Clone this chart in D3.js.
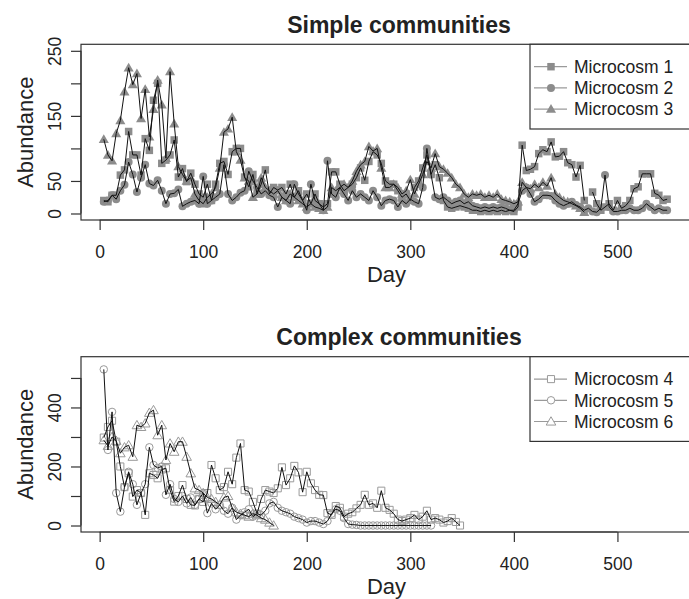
<!DOCTYPE html>
<html><head><meta charset="utf-8">
<script src="https://cdn.jsdelivr.net/npm/d3@7"></script>
<style>
body{margin:0;background:#fff;}
svg{display:block;font-family:"Liberation Sans",Arial,Helvetica,sans-serif;}
</style></head>
<body>
<svg id="chart" width="689" height="599"></svg>
<script>
// ---------- DATA ----------
const daysTop = [4,8,12,16,20,24,28,32,36,40,44,48,52,56,60,64,68,72,76,80,
84,88,92,96,100,104,108,112,116,120,124,128,132,136,140,144,148,152,156,160,
164,168,172,176,180,184,188,192,196,200,204,208,212,216,220,224,228,232,236,240,
244,248,252,256,260,264,268,272,276,280,284,288,292,296,300,304,308,312,316,320,
324,328,332,336,340,344,348,352,356,360,364,368,372,376,380,384,388,392,396,400,
404,408,412,416,420,424,428,432,436,440,444,448,452,456,460,464,468,472,476,480,
484,488,492,496,500,504,508,512,516,520,524,528,532,536,540,544,548];

const micro1 = [20,18,28,28,59,67,126,90,90,59,115,97,174,200,77,82,90,113,56,69,
49,62,45,30,25,45,20,45,77,80,60,95,100,100,56,41,60,30,45,67,
30,40,36,40,30,45,25,35,20,30,15,30,15,10,15,64,64,45,35,40,
45,55,70,51,80,95,90,77,50,45,45,35,25,30,20,40,50,70,90,60,
75,55,20,10,8,10,12,10,8,5,5,3,5,3,5,3,5,3,5,3,
10,105,66,68,72,92,98,95,110,87,88,95,78,75,56,74,20,null,33,15,
5,10,15,5,20,8,12,20,38,41,61,61,61,31,28,20,22];

const micro2 = [18,20,28,22,35,44,79,60,33,55,75,46,43,51,35,15,30,31,37,11,
15,18,20,15,57,15,20,25,30,75,30,20,25,32,35,65,50,40,30,35,
28,25,10,25,20,15,45,30,20,5,45,20,15,5,81,30,25,40,30,20,
35,25,30,25,20,35,25,12,20,22,20,10,20,15,22,18,15,40,100,60,
25,22,25,20,15,18,20,15,18,12,10,8,10,8,10,8,10,8,5,5,
15,35,40,30,18,22,28,28,27,20,15,12,15,18,13,10,5,8,3,2,
8,59,10,3,3,5,5,8,5,5,8,15,10,5,8,5,5];

const micro3 = [114,90,81,123,143,187,224,198,215,146,191,118,160,205,167,85,218,138,72,60,
50,55,30,20,15,25,30,40,70,125,130,148,95,82,55,50,25,30,55,40,
35,30,35,25,20,30,25,20,15,10,15,10,8,5,10,40,35,40,45,40,
50,65,75,80,103,96,100,70,40,40,45,40,30,35,52,30,45,60,80,70,
92,72,68,62,55,45,40,30,25,30,28,30,25,28,25,30,22,20,18,15,
18,48,40,38,45,40,48,42,55,30,25,20,18,15,12,8,2,null,null,null,
null,null,null,null,null,null,null,null,null,null,null,null,null,null,null,null,null];

const daysBottom = [4,8,12,16,20,24,28,32,36,40,44,48,52,56,60,64,68,72,76,80,
84,88,92,96,100,104,108,112,116,120,124,128,132,136,140,144,148,152,156,160,
164,168,172,176,180,184,188,192,196,200,204,208,212,216,220,224,228,232,236,240,
244,248,252,256,260,264,268,272,276,280,284,288,292,296,300,304,308,312,316,320,
324,328,332,336,340,344,348];

const micro4 = [298,334,355,284,200,130,177,98,120,110,36,177,171,160,190,194,120,81,100,137,
90,70,68,90,80,110,205,160,120,130,182,140,230,278,120,115,80,40,90,120,
115,110,126,197,137,160,202,180,113,182,143,120,104,103,42,36,66,60,30,40,
45,58,70,104,70,75,60,118,60,53,40,20,15,20,25,36,20,30,50,20,
25,20,10,15,25,12,0];

const micro5 = [529,256,385,110,47,130,182,140,70,110,140,265,205,195,200,104,140,90,80,100,
75,95,70,90,110,42,75,55,70,50,40,60,20,35,45,55,30,40,35,50,
75,80,60,50,45,40,30,25,20,10,15,15,10,5,15,40,55,50,25,5,
3,2,0,0,0,0,0,0,0,0,0,0,0,0,0,0,0,0,0,0,
null,null,null,null,null,null,null];

const micro6 = [289,270,300,287,245,265,272,233,340,334,346,382,391,306,340,222,278,250,284,284,
233,177,126,120,110,95,90,80,70,95,100,60,45,40,35,30,40,35,25,20,
10,0,null,null,null,null,null,null,null,null,null,null,null,null,null,null,null,null,null,null,
null,null,null,null,null,null,null,null,null,null,null,null,null,null,null,null,null,null,null,null,
null,null,null,null,null,null,null];

const xTicks = [0,100,200,300,400,500];
const xTickLabels = ["0","100","200","300","400","500"];
const yTicksTop = [0,50,100,150,200,250];
const yTickLabelsTop = ["0","50","","150","","250"];
const yTicksBottom = [0,100,200,300,400,500];
const yTickLabelsBottom = ["0","","200","","400",""];

const titles = ["Simple communities","Complex communities"];
const namesTop = ["Microcosm 1","Microcosm 2","Microcosm 3"];
const namesBottom = ["Microcosm 4","Microcosm 5","Microcosm 6"];

// ---------- DRAW ----------
const svg = d3.select("#chart");
const x = d3.scaleLinear().domain([-18, 572]).range([81, 692]);

const shapes = [d3.symbolSquare, d3.symbolCircle, d3.symbolTriangle];
const sizesFilled = [56, 50, 44];
const sizesOpen = [50, 44, 40];

function panel(cfg){
  const g = svg.append("g");
  const y = cfg.y;
  const [y0, y1] = y.range(); // bottom, top
  const series = cfg.series;
  const sizes = cfg.filled ? sizesFilled : sizesOpen;

  // markers first
  series.forEach((vals, si) => {
    const pts = cfg.days.map((d,i)=>({d, v: vals[i]})).filter(p => p.v !== null);
    g.append("g").selectAll("path").data(pts).join("path")
      .attr("transform", p => `translate(${x(p.d)},${y(p.v) + (si===2 ? 0.8 : 0)})`)
      .attr("d", d3.symbol().type(shapes[si]).size(sizes[si]))
      .attr("fill", cfg.filled ? "#8c8c8c" : "none")
      .attr("stroke", cfg.filled ? "none" : "#9a9a9a")
      .attr("stroke-width", 1);
  });
  // lines on top
  series.forEach((vals) => {
    const pts = cfg.days.map((d,i)=>({d, v: vals[i]}));
    g.append("path").datum(pts)
      .attr("fill","none").attr("stroke","#111").attr("stroke-width",1)
      .attr("d", d3.line().defined(p => p.v !== null).x(p => x(p.d)).y(p => y(p.v)));
  });

  // box
  g.append("rect").attr("x", x.range()[0]).attr("y", y1)
    .attr("width", x.range()[1]-x.range()[0]).attr("height", y0-y1)
    .attr("fill","none").attr("stroke","#333").attr("stroke-width",1.2);

  // x axis
  const xa = g.append("g").attr("transform", `translate(0,${y0})`)
    .call(d3.axisBottom(x).tickValues(xTicks).tickSize(10).tickFormat((d,i)=>xTickLabels[i]));
  xa.select(".domain").remove();
  xa.append("line").attr("x1", x(xTicks[0])).attr("x2", x(xTicks[xTicks.length-1]))
    .attr("stroke","#333").attr("stroke-width",1.2);
  xa.selectAll(".tick line").attr("stroke","#333").attr("stroke-width",1.2);
  xa.selectAll(".tick text").attr("y", 38).attr("dy", null)
    .attr("font-size", 17.5).attr("fill","#222").attr("font-family", null);

  // y axis
  const ya = g.append("g").attr("transform", `translate(${x.range()[0]},0)`)
    .call(d3.axisLeft(y).tickValues(cfg.yTicks).tickSize(10).tickFormat((d,i)=>cfg.yLabels[i]));
  ya.select(".domain").remove();
  ya.append("line").attr("y1", y(cfg.yTicks[0])).attr("y2", y(cfg.yTicks[cfg.yTicks.length-1]))
    .attr("stroke","#333").attr("stroke-width",1.2);
  ya.selectAll(".tick line").attr("stroke","#333").attr("stroke-width",1.2);
  ya.selectAll(".tick text").attr("x", null).attr("dy", null)
    .attr("transform","translate(-20,0) rotate(-90)").attr("text-anchor","middle")
    .attr("font-size", 17.5).attr("fill","#222").attr("font-family", null);

  // titles
  g.append("text").attr("x", 399).attr("y", y1 - 11.5).attr("text-anchor","middle")
    .attr("font-size", 23).attr("font-weight","bold").attr("fill","#222").text(cfg.title);
  g.append("text").attr("x", (x.range()[0]+x.range()[1])/2).attr("y", y0 + 61.5)
    .attr("text-anchor","middle").attr("font-size", 22).attr("fill","#222").text("Day");
  g.append("text").attr("transform", `translate(33,${(y0+y1)/2}) rotate(-90)`)
    .attr("text-anchor","middle").attr("font-size", 22).attr("fill","#222").text("Abundance");

  // legend
  const lg = g.append("g");
  lg.append("rect").attr("x", 530).attr("y", y1).attr("width", 200).attr("height", 84.7)
    .attr("fill","#fff").attr("stroke","#333").attr("stroke-width",1.2);
  cfg.names.forEach((name, i) => {
    const ly = y1 + 22.4 + i*21.2;
    lg.append("line").attr("x1", 534).attr("x2", 567).attr("y1", ly).attr("y2", ly)
      .attr("stroke","#9a9a9a").attr("stroke-width",1.2);
    lg.append("path").attr("transform", `translate(551,${ly + (i===2?0.8:0)})`)
      .attr("d", d3.symbol().type(shapes[i]).size(sizes[i]))
      .attr("fill", cfg.filled ? "#8c8c8c" : "#fff")
      .attr("stroke", cfg.filled ? "none" : "#9a9a9a").attr("stroke-width",1);
    lg.append("text").attr("x", 574).attr("y", ly + 6.3).attr("font-size", 17.5)
      .attr("fill","#222").text(name);
  });
}

panel({
  y: d3.scaleLinear().domain([-10, 260]).range([220, 44.3]),
  days: daysTop, series: [micro1, micro2, micro3], filled: true,
  yTicks: yTicksTop, yLabels: yTickLabelsTop, title: titles[0], names: namesTop
});
panel({
  y: d3.scaleLinear().domain([-22, 572]).range([532, 356.7]),
  days: daysBottom, series: [micro4, micro5, micro6], filled: false,
  yTicks: yTicksBottom, yLabels: yTickLabelsBottom, title: titles[1], names: namesBottom
});
</script>
</body></html>
